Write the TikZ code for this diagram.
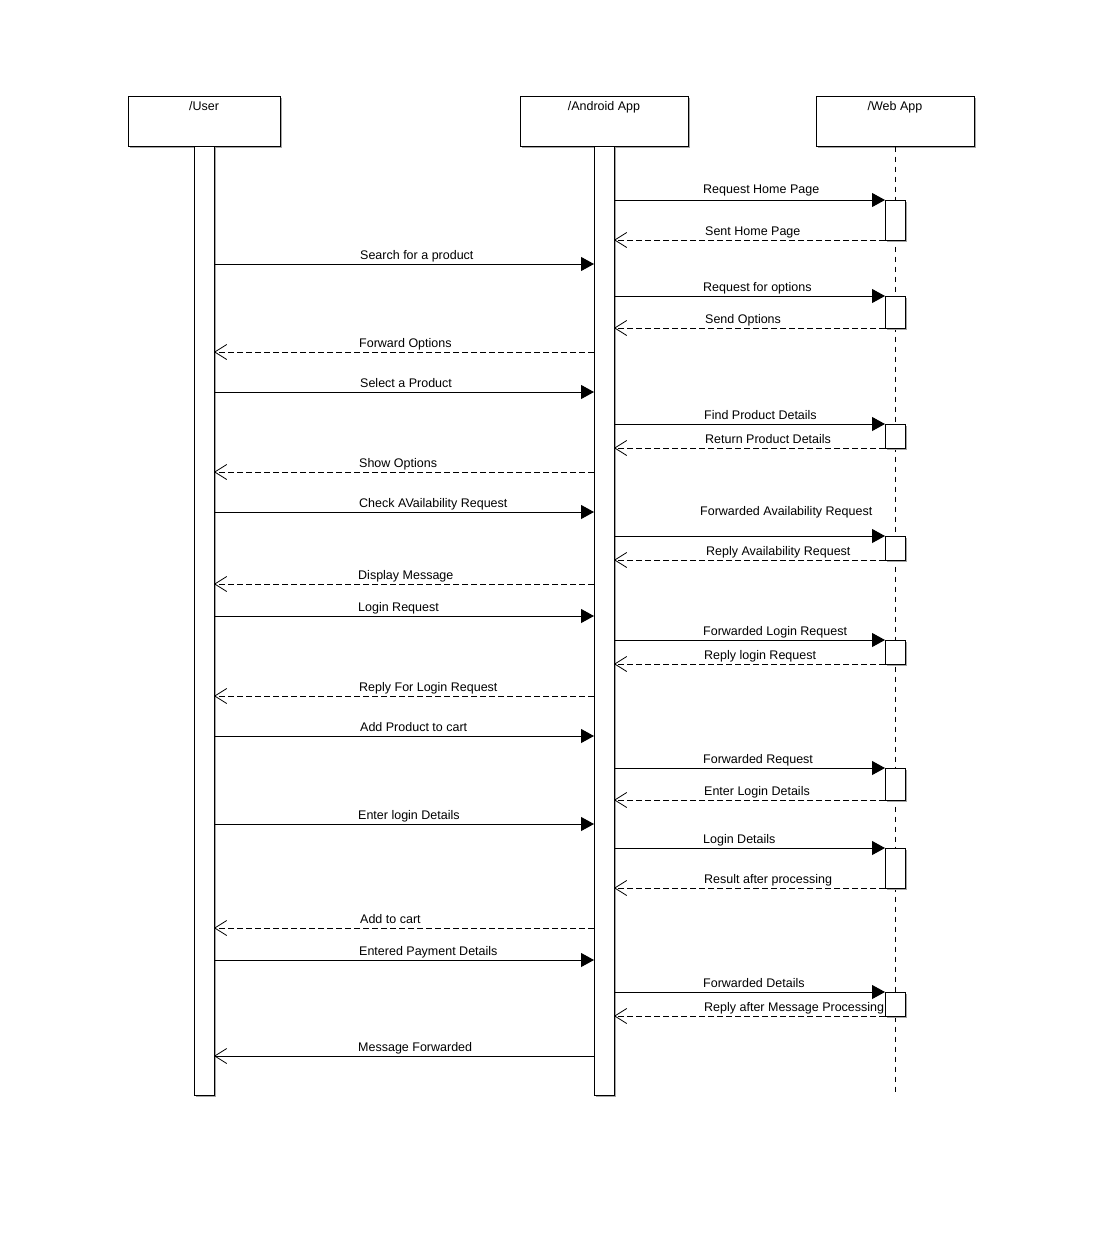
\documentclass[tikz,border=0pt]{standalone}
\usepackage{fontspec}
\setmainfont{Liberation Sans}
\usetikzlibrary{arrows.meta}
\begin{document}
\begin{tikzpicture}[x=1pt,y=-1pt,
  lbl/.style={font=\fontsize{12.5}{14}\selectfont, anchor=base west, inner sep=0pt},
  hdrtext/.style={font=\fontsize{12.5}{14}\selectfont, anchor=base, inner sep=0pt},
  box/.style={draw, line width=1pt, fill=white, inner sep=0pt},
  shade/.style={fill=black!35},
  call/.style={line width=1pt, -{Triangle[length=13pt,width=14pt]}},
  reply/.style={line width=1pt, dash pattern=on 6pt off 3pt, -{Straight Barb[length=12pt,width=15pt,line width=0.8pt]}},
  answer/.style={line width=1pt, -{Straight Barb[length=12pt,width=15pt,line width=0.8pt]}},
  lifeline/.style={line width=1pt, dash pattern=on 5pt off 5pt}]
\fill[white] (0,0) rectangle (1102,1256);
\useasboundingbox (0,0) rectangle (1102,1256);

% participant heads with drop shadows
\fill[shade] (130,98) rectangle (282,148);
\fill[shade] (522,98) rectangle (690,148);
\fill[shade] (818,98) rectangle (976,148);
\node[box, minimum width=152pt, minimum height=50pt] (user) at (204,121) {};
\node[box, minimum width=168pt, minimum height=50pt] (android) at (604,121) {};
\node[box, minimum width=158pt, minimum height=50pt] (web) at (895,121) {};
\node[hdrtext] (userlbl) at (204,110) {/User};
\node[hdrtext] (androidlbl) at (604,110) {/Android App};
\node[hdrtext] (weblbl) at (895,110) {/Web App};

% lifelines
\coordinate (webend) at (895,1092);
\draw[lifeline] (web.south) -- (webend);
\fill[shade] (196,148) rectangle (216,1097);
\fill[shade] (596,148) rectangle (616,1097);
\node[box, minimum width=20pt, minimum height=949pt] (ubar) at (204,620.5) {};
\node[box, minimum width=20pt, minimum height=949pt] (abar) at (604,620.5) {};

% activations on the web app
\foreach \k/\t/\b in {1/200/240, 2/296/328, 3/424/448, 4/536/560,
                      5/640/664, 6/768/800, 7/848/888, 8/992/1016} {
  \fill[shade] (887,\t+2) rectangle (907,\b+2);
  \node[box, minimum width=20pt, minimum height=\b-\t] (wa\k) at (895,{(\t+\b)/2}) {};
}

% messages: number / y / from x / to x / style / label x / label baseline / text
\foreach \n/\y/\a/\b/\st/\lx/\ly/\txt in {
  1/200/614/885/call/703/193/Request Home Page,
  2/240/885/614/reply/705/235/Sent Home Page,
  3/264/214/594/call/360/259/Search for a product,
  4/296/614/885/call/703/291/Request for options,
  5/328/885/614/reply/705/323/Send Options,
  6/352/594/214/reply/359/347/Forward Options,
  7/392/214/594/call/360/387/Select a Product,
  8/424/614/885/call/704/419/Find Product Details,
  9/448/885/614/reply/705/443/Return Product Details,
  10/472/594/214/reply/359/467/Show Options,
  11/512/214/594/call/359/507/Check AVailability Request,
  12/536/614/885/call/700/515/Forwarded Availability Request,
  13/560/885/614/reply/706/555/Reply Availability Request,
  14/584/594/214/reply/358/579/Display Message,
  15/616/214/594/call/358/611/Login Request,
  16/640/614/885/call/703/635/Forwarded Login Request,
  17/664/885/614/reply/704/659/Reply login Request,
  18/696/594/214/reply/359/691/Reply For Login Request,
  19/736/214/594/call/360/731/Add Product to cart,
  20/768/614/885/call/703/763/Forwarded Request,
  21/800/885/614/reply/704/795/Enter Login Details,
  22/824/214/594/call/358/819/Enter login Details,
  23/848/614/885/call/703/843/Login Details,
  24/888/885/614/reply/704/883/Result after processing,
  25/928/594/214/reply/360/923/Add to cart,
  26/960/214/594/call/359/955/Entered Payment Details,
  27/992/614/885/call/703/987/Forwarded Details,
  28/1016/885/614/reply/704/1011/Reply after Message Processing,
  29/1056/594/214/answer/358/1051/Message Forwarded} {
  \coordinate (s\n) at (\a,\y);
  \coordinate (e\n) at (\b,\y);
  \draw[\st] (s\n) -- (e\n);
  \node[lbl] (t\n) at (\lx,\ly) {\txt};
}
\end{tikzpicture}
\end{document}
